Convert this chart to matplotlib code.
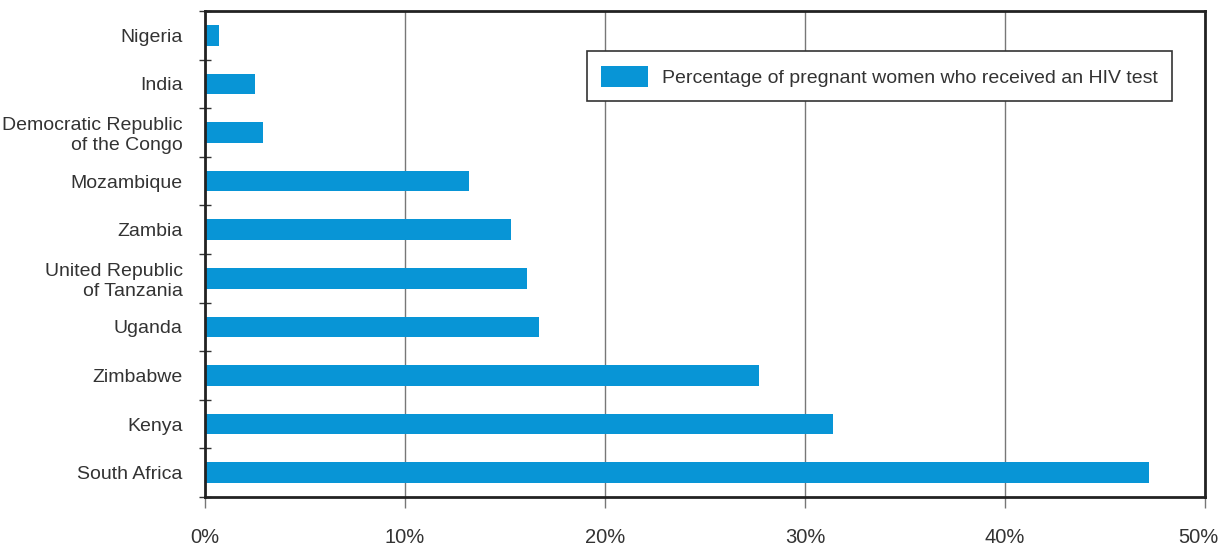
import matplotlib.pyplot as plt
from matplotlib.ticker import FixedLocator, FuncFormatter
from matplotlib.transforms import ScaledTranslation

plt.rcParams['font.family'] = ['Liberation Sans', 'DejaVu Sans']

countries = ['Nigeria', 'India', 'Democratic Republic\nof the Congo', 'Mozambique',
             'Zambia', 'United Republic\nof Tanzania', 'Uganda', 'Zimbabwe',
             'Kenya', 'South Africa']
values = [0.7, 2.5, 2.9, 13.2, 15.3, 16.1, 16.7, 27.7, 31.4, 47.2]
xticks = [0, 10, 20, 30, 40, 50]

W, H = 1222, 548
fig = plt.figure(figsize=(W / 100, H / 100), dpi=100)
ax = fig.add_axes([205 / W, 1 - 497 / H, 1000 / W, 486 / H])

bar_color = '#0895d6'
text_color = '#333333'
ypos = list(range(len(countries)))
ax.barh(ypos, values, height=0.42, color=bar_color, zorder=3,
        label='Percentage of pregnant women who received an HIV test')

ax.set_xlim(0, 50)
ax.set_ylim(len(countries) - 0.5, -0.5)

ax.set_xticks(xticks)
ax.xaxis.set_major_formatter(FuncFormatter(lambda v, p: f'{v:.0f}%'))
ax.tick_params(axis='x', direction='out', length=8, width=1, color='#777777',
               pad=14, labelsize=14.5, labelcolor=text_color)
ax.grid(axis='x', color='#777777', linewidth=1, zorder=1)

ax.set_yticks(ypos)
ax.set_yticklabels(countries, ha='right', multialignment='right')
ax.tick_params(axis='y', which='major', length=0, pad=16, labelsize=14,
               labelcolor=text_color)
ax.yaxis.set_minor_locator(FixedLocator([i - 0.5 for i in range(len(countries) + 1)]))
ax.tick_params(axis='y', which='minor', direction='inout', length=8, width=1,
               color='#333333')

for s in ax.spines.values():
    s.set_color('#222222')
    s.set_linewidth(2)
    s.set_zorder(4)

# the 50% label sits a little left so it stays inside the picture
last = ax.get_xticklabels()[-1]
last.set_transform(last.get_transform() + ScaledTranslation(-5 / 72, 0, fig.dpi_scale_trans))

leg = ax.legend(loc='upper right', bbox_to_anchor=(1172 / W, 1 - 51 / H),
                bbox_transform=fig.transFigure, borderaxespad=0, fancybox=False,
                framealpha=1, edgecolor='#333333', fontsize=14,
                handlelength=2.4, handleheight=1.3, borderpad=0.75,
                handletextpad=0.7)
leg.get_frame().set_linewidth(1.2)
for t in leg.get_texts():
    t.set_color(text_color)

fig.savefig('out.png', dpi=100)
